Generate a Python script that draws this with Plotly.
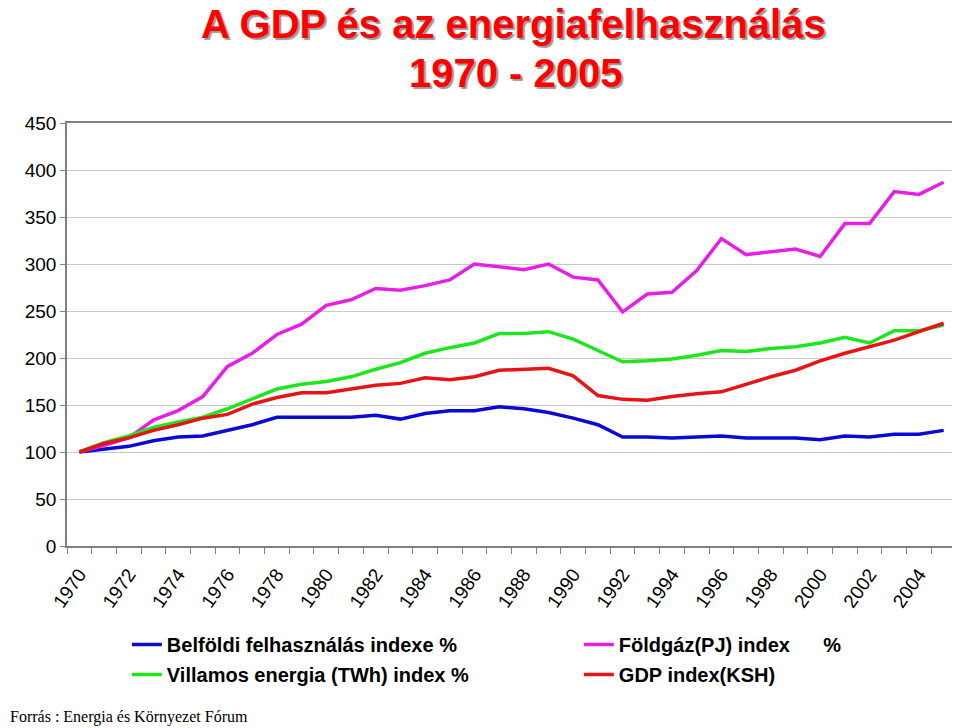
import plotly.graph_objects as go

years = list(range(1970, 2006))
year_labels = [str(y) for y in years[::2]]

# index values, 1970 = 100
belfoldi = [100, 103, 106, 112, 116, 117, 123, 129, 137, 137, 137, 137, 139, 135, 141, 144, 144, 148,
            146, 142, 136, 129, 116, 116, 115, 116, 117, 115, 115, 115, 113, 117, 116, 119, 119, 123]
foldgaz = [100, 107, 115, 134, 144, 159, 191, 205, 225, 236, 256, 262, 274, 272, 277, 283, 300, 297,
           294, 300, 286, 283, 249, 268, 270, 293, 327, 310, 313, 316, 308, 343, 343, 377, 374, 387]
villamos = [100, 110, 117, 126, 132, 137, 146, 157, 167, 172, 175, 180, 188, 195, 205, 211, 216, 226,
            226, 228, 220, 208, 196, 197, 199, 203, 208, 207, 210, 212, 216, 222, 216, 229, 229, 235]
gdp = [100, 109, 115, 123, 129, 136, 140, 151, 158, 163, 163, 167, 171, 173, 179, 177, 180, 187,
       188, 189, 181, 160, 156, 155, 159, 162, 164, 172, 180, 187, 197, 205, 212, 219, 228, 237]

# name, values, colour, which legend column
series = [
    ("Belföldi felhasználás indexe %", belfoldi, "#0a0ad2", "legend"),
    ("Villamos energia (TWh) index %", villamos, "#1ee61e", "legend"),
    ("Földgáz(PJ) index\u00a0\u00a0\u00a0\u00a0\u00a0\u00a0%", foldgaz, "#e61ee6", "legend2"),
    ("GDP index(KSH)", gdp, "#e61414", "legend2"),
]
draw_order = [0, 2, 1, 3]

fig = go.Figure()
for i in draw_order:
    name, vals, col, leg = series[i]
    fig.add_trace(go.Scatter(x=years, y=vals, name=name, mode="lines", legend=leg,
                             legendgroup=name, legendrank=i,
                             line=dict(color=col, width=3.5)))

# page puts the figure 8px in from the top-left corner
W, H = 952, 720
L, R, T, B = 59, 2, 115, 182
pw, ph = W - L - R, H - T - B


def px(x):
    return (x - 8 - L) / pw


def py(y):
    return (H - B - (y - 8)) / ph


leg_font = dict(size=20, weight="bold", family="Liberation Sans, Arial", color="black")
fig.update_layout(
    width=W, height=H,
    margin=dict(l=L, r=R, t=T, b=B),
    paper_bgcolor="white", plot_bgcolor="white",
    font=dict(family="Liberation Sans, Arial", color="black"),
    legend=dict(x=px(127), xanchor="left", y=py(625), yanchor="top",
                tracegroupgap=1, font=leg_font, bgcolor="rgba(0,0,0,0)"),
    legend2=dict(x=px(580), xanchor="left", y=py(625), yanchor="top",
                 tracegroupgap=1, font=leg_font, bgcolor="rgba(0,0,0,0)"),
    showlegend=True,
)

fig.update_xaxes(range=[1969.5, 2005.5], tickvals=years[::2], ticktext=year_labels, tickangle=-55,
                 ticks="outside", ticklen=8, tickcolor="rgba(0,0,0,0)",
                 tickfont=dict(size=19),
                 minor=dict(tickmode="linear", tick0=1969.5, dtick=1, ticks="outside",
                            ticklen=6, tickcolor="#808080"),
                 showgrid=False, showline=True, linecolor="#808080", linewidth=1.5,
                 mirror=True, zeroline=False)
fig.update_yaxes(range=[0, 450], dtick=50, ticks="outside", ticklen=5, tickcolor="#808080",
                 tickfont=dict(size=19), showgrid=True, gridcolor="#c8c8c8",
                 showline=True, linecolor="#808080", linewidth=1.5, mirror=True, zeroline=False)

title_font = dict(size=40, color="#ff0000", weight="bold", family="Liberation Sans, Arial",
                  shadow="2px 2px 1px #999999")
fig.add_annotation(text="A GDP és az energiafelhasználás", xref="paper", yref="paper",
                   x=px(515), y=py(24), xanchor="center", yanchor="middle",
                   showarrow=False, font=title_font)
fig.add_annotation(text="1970 - 2005", xref="paper", yref="paper",
                   x=px(517), y=py(73), xanchor="center", yanchor="middle",
                   showarrow=False, font=title_font)

fig.add_annotation(text="Forrás : Energia és Környezet Fórum", xref="paper", yref="paper",
                   x=px(8), y=py(717), xanchor="left", yanchor="middle",
                   showarrow=False, font=dict(family="Liberation Serif, Times New Roman", size=16))

fig.write_html("out.html")
